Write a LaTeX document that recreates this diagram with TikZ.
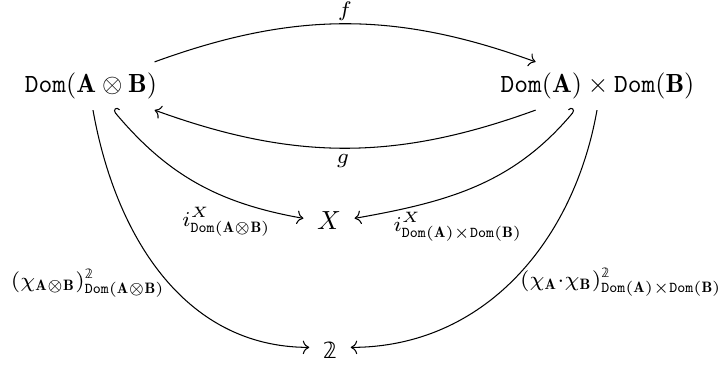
\documentclass[tikz,border=0pt]{standalone}
\usepackage{amsmath,amssymb,graphicx}
\usepackage{fontspec}
\newfontfamily\dejavubb[Scale=0.85]{DejaVu Sans}
\newcommand{\bbtwo}{\text{\dejavubb 𝟚}}
\newcommand{\lbltext}[1]{\scalebox{1.15}{$\scriptstyle #1$}}
\usetikzlibrary{cd,calc}
\begin{document}
\begin{tikzpicture}[x=0.3817pt,y=0.3817pt,
  obj/.style={inner xsep=0pt, inner ysep=4pt, text height=7.5pt, text depth=2.5pt},
  tgt/.style={inner xsep=5pt, inner ysep=3pt},
  lbl/.style={inner sep=0pt},
  arr/.style={-{tikzcd to}},
  hkr/.style={{tikzcd right hook}-{tikzcd to}},
  hkl/.style={{tikzcd left hook}-{tikzcd to}}]
\useasboundingbox (0,0) rectangle (718,367);
\node[obj] (A) at (91,281) {$\mathtt{Dom}(\mathbf{A}\otimes\mathbf{B})$};
\node[obj] (B) at (597.5,281) {$\mathtt{Dom}(\mathbf{A})\times\mathtt{Dom}(\mathbf{B})$};
\node[tgt] (X) at (329,146) {$X$};
\node[tgt] (T) at (330,17) {$\bbtwo$};
% labels
\node[lbl] (lf) at (345,356) {\lbltext{f}};
\node[lbl] (lg) at (343,206) {\lbltext{g}};
\node[lbl] (liL) at (226.5,145) {\lbltext{i^{X}_{\mathtt{Dom}(\mathbf{A}\otimes\mathbf{B})}}};
\node[lbl] (liR) at (458,140) {\lbltext{i^{X}_{\mathtt{Dom}(\mathbf{A})\times\mathtt{Dom}(\mathbf{B})}}};
\node[lbl] (lcL) at (88,84) {\lbltext{(\chi_{\mathbf{A}\otimes\mathbf{B}})^{\bbtwo}_{\mathtt{Dom}(\mathbf{A}\otimes\mathbf{B})}}};
\node[lbl] (lcR) at (621,85) {\lbltext{(\chi_{\mathbf{A}}\cdot\chi_{\mathbf{B}})^{\bbtwo}_{\mathtt{Dom}(\mathbf{A})\times\mathtt{Dom}(\mathbf{B})}}};
% arrows
\draw[arr] ($(A.north east)+(-3,0)$) to[bend left=20] ($(B.north west)+(35.5,0)$);
\draw[arr] ($(B.south west)+(35.5,0)$) to[bend left=20] ($(A.south east)+(-3,0)$);
\draw[hkr] ($(A.south)+(22,0)$) to[out=-50,in=170] ([yshift=1pt]X.west);
\draw[hkl] ($(B.south)+(-22.5,0)$) to[out=-130,in=10] ([yshift=1pt]X.east);
\draw[arr] ($(A.south)+(2,0)$) to[out=-80,in=180] ([yshift=1pt]T.west);
\draw[arr] ($(B.south)+(-0.5,0)$) to[out=-100,in=0] ([yshift=1pt]T.east);
\end{tikzpicture}
\end{document}
